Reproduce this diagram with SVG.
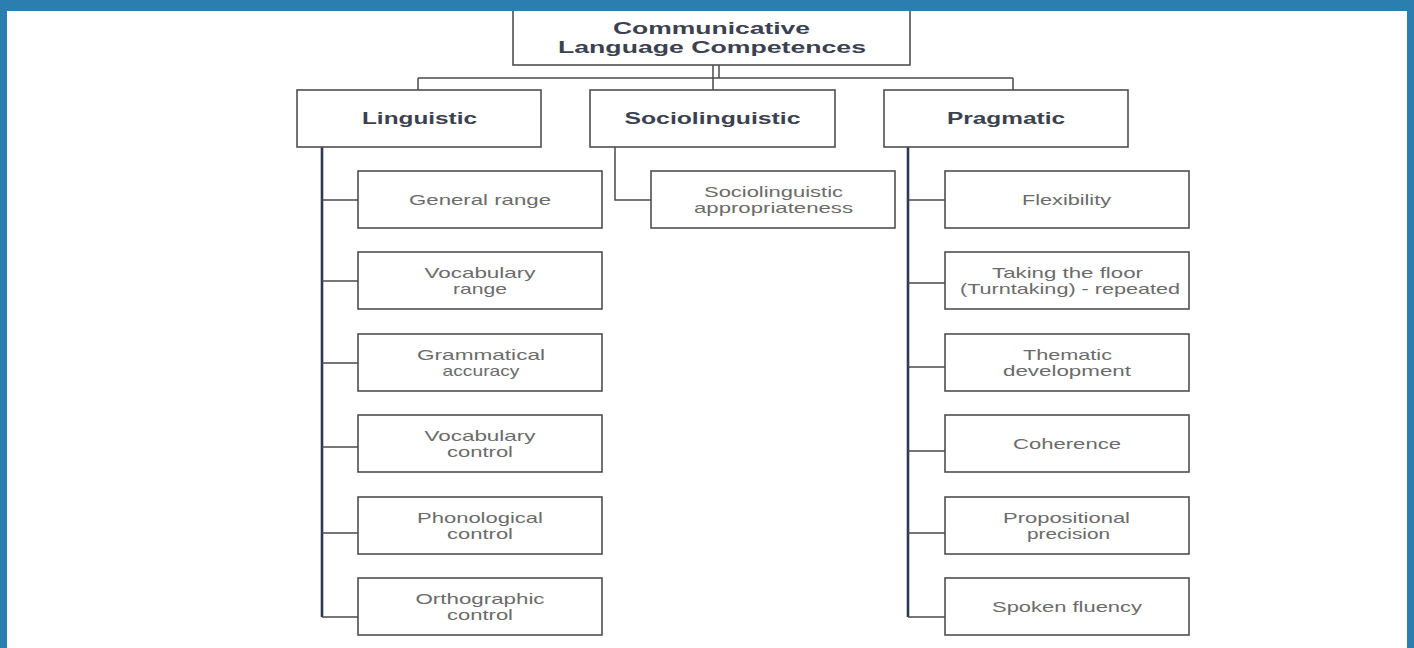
<svg xmlns="http://www.w3.org/2000/svg" width="1414" height="648" viewBox="0 0 1414 648">
<style>
.box{fill:#fff;stroke:#4f4f4f;stroke-width:1.6}
.h{font-family:"Liberation Sans",Arial,sans-serif;font-weight:bold;font-size:16px;fill:#3c4150;text-anchor:middle}
.t{font-family:"Liberation Sans",Arial,sans-serif;font-size:15px;fill:#6b6b6b;text-anchor:middle}
.ln{fill:none;stroke:#4a4a4a;stroke-width:1.5}
.sp{fill:none;stroke:#2e3852;stroke-width:2.6}
</style>
<rect x="0" y="0" width="1414" height="648" fill="#fff"/>
<g id="connectors">
<path class="ln" d="M713 65V90M719 65V78M418 78H1013M418 78V90M1013 78V90"/>
<path class="sp" d="M322 147V617"/>
<path class="ln" d="M322 200H358M322 281H358M322 363H358M322 447H358M322 533H358M322 617H358"/>
<path class="ln" d="M615 147V200H651"/>
<path class="sp" d="M908 147V617"/>
<path class="ln" d="M908 200H945M908 283H945M908 367H945M908 451H945M908 533H945M908 617H945"/>
</g>
<g id="root"><rect class="box" x="513" y="4" width="397" height="61"/>
<text class="h" x="711.5" y="34" textLength="197" lengthAdjust="spacingAndGlyphs">Communicative</text>
<text class="h" x="712" y="53" textLength="308" lengthAdjust="spacingAndGlyphs">Language Competences</text></g>
<g id="linguistic"><rect class="box" x="297" y="90" width="244" height="57"/>
<text class="h" x="419.5" y="124" textLength="115" lengthAdjust="spacingAndGlyphs">Linguistic</text></g>
<g id="sociolinguistic"><rect class="box" x="590" y="90" width="245" height="57"/>
<text class="h" x="712.5" y="124" textLength="176" lengthAdjust="spacingAndGlyphs">Sociolinguistic</text></g>
<g id="pragmatic"><rect class="box" x="884" y="90" width="244" height="57"/>
<text class="h" x="1006" y="124" textLength="118" lengthAdjust="spacingAndGlyphs">Pragmatic</text></g>
<g id="general-range"><rect class="box" x="358" y="171" width="244" height="57"/>
<text class="t" x="480" y="205" textLength="142" lengthAdjust="spacingAndGlyphs">General range</text></g>
<g id="vocabulary-range"><rect class="box" x="358" y="252" width="244" height="57"/>
<text class="t" x="480" y="278" textLength="111" lengthAdjust="spacingAndGlyphs">Vocabulary</text>
<text class="t" x="480" y="294" textLength="54" lengthAdjust="spacingAndGlyphs">range</text></g>
<g id="grammatical-accuracy"><rect class="box" x="358" y="334" width="244" height="57"/>
<text class="t" x="481" y="360" textLength="128" lengthAdjust="spacingAndGlyphs">Grammatical</text>
<text class="t" x="481" y="376" textLength="77" lengthAdjust="spacingAndGlyphs">accuracy</text></g>
<g id="vocabulary-control"><rect class="box" x="358" y="415" width="244" height="57"/>
<text class="t" x="480" y="441" textLength="111" lengthAdjust="spacingAndGlyphs">Vocabulary</text>
<text class="t" x="480" y="457" textLength="66" lengthAdjust="spacingAndGlyphs">control</text></g>
<g id="phonological-control"><rect class="box" x="358" y="497" width="244" height="57"/>
<text class="t" x="480" y="523" textLength="126" lengthAdjust="spacingAndGlyphs">Phonological</text>
<text class="t" x="480" y="539" textLength="66" lengthAdjust="spacingAndGlyphs">control</text></g>
<g id="orthographic-control"><rect class="box" x="358" y="578" width="244" height="57"/>
<text class="t" x="480" y="604" textLength="129" lengthAdjust="spacingAndGlyphs">Orthographic</text>
<text class="t" x="480" y="620" textLength="66" lengthAdjust="spacingAndGlyphs">control</text></g>
<g id="sociolinguistic-appropriateness"><rect class="box" x="651" y="171" width="244" height="57"/>
<text class="t" x="773.5" y="197" textLength="139" lengthAdjust="spacingAndGlyphs">Sociolinguistic</text>
<text class="t" x="773.5" y="213" textLength="159" lengthAdjust="spacingAndGlyphs">appropriateness</text></g>
<g id="flexibility"><rect class="box" x="945" y="171" width="244" height="57"/>
<text class="t" x="1066.5" y="205" textLength="89" lengthAdjust="spacingAndGlyphs">Flexibility</text></g>
<g id="taking-the-floor"><rect class="box" x="945" y="252" width="244" height="57"/>
<text class="t" x="1067.5" y="278" textLength="151" lengthAdjust="spacingAndGlyphs">Taking the floor</text>
<text class="t" x="1070" y="294" textLength="220" lengthAdjust="spacingAndGlyphs">(Turntaking) - repeated</text></g>
<g id="thematic-development"><rect class="box" x="945" y="334" width="244" height="57"/>
<text class="t" x="1067.5" y="360" textLength="89" lengthAdjust="spacingAndGlyphs">Thematic</text>
<text class="t" x="1067" y="376" textLength="128" lengthAdjust="spacingAndGlyphs">development</text></g>
<g id="coherence"><rect class="box" x="945" y="415" width="244" height="57"/>
<text class="t" x="1067" y="449" textLength="108" lengthAdjust="spacingAndGlyphs">Coherence</text></g>
<g id="propositional-precision"><rect class="box" x="945" y="497" width="244" height="57"/>
<text class="t" x="1066.5" y="523" textLength="127" lengthAdjust="spacingAndGlyphs">Propositional</text>
<text class="t" x="1068.5" y="539" textLength="83" lengthAdjust="spacingAndGlyphs">precision</text></g>
<g id="spoken-fluency"><rect class="box" x="945" y="578" width="244" height="57"/>
<text class="t" x="1067" y="612" textLength="150" lengthAdjust="spacingAndGlyphs">Spoken fluency</text></g>
<g id="frame">
<rect x="0" y="0" width="1414" height="11" fill="#2b7fb0"/>
<rect x="0" y="0" width="7" height="648" fill="#2b7fb0"/>
<rect x="1407" y="0" width="7" height="648" fill="#2b7fb0"/>
</g>
</svg>
